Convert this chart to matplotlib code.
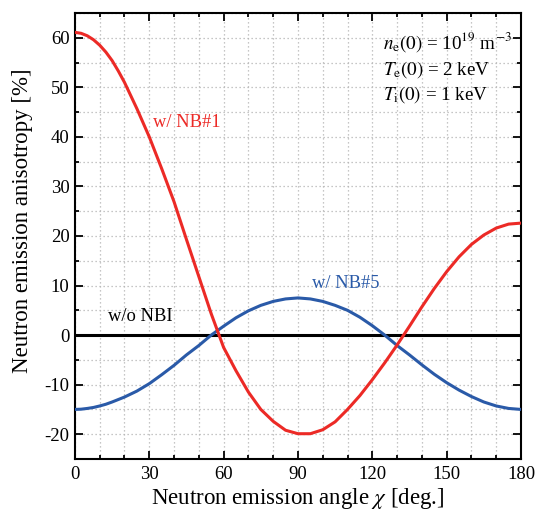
import numpy as np
import matplotlib
matplotlib.use('Agg')
import matplotlib.pyplot as plt
from matplotlib.ticker import MultipleLocator

plt.rcParams['font.family'] = ['Liberation Serif', 'DejaVu Serif']
plt.rcParams['mathtext.fontset'] = 'stix'
plt.rcParams['axes.unicode_minus'] = False

# angle [deg.]
chi = [0, 2.5, 5, 7.5, 10, 12.5, 15, 17.5, 20, 25, 30, 35, 40, 45, 50, 55, 60,
       65, 70, 75, 80, 85, 90, 95, 100, 105, 110, 115, 120, 125, 130, 135, 140,
       145, 150, 155, 160, 165, 170, 175, 180]

# w/ NB#1
nb1 = [61.1, 60.9, 60.4, 59.6, 58.5, 57.1, 55.4, 53.3, 51.0, 45.7, 40.0, 33.6,
       26.9, 19.3, 11.8, 4.3, -2.5, -7.2, -11.5, -15.0, -17.4, -19.2, -19.9,
       -19.9, -19.1, -17.5, -15.0, -12.2, -9.0, -5.6, -2.0, 1.8, 5.7, 9.4, 12.8,
       15.8, 18.3, 20.2, 21.6, 22.4, 22.6]

# w/ NB#5
nb5 = [-15.0, -14.95, -14.8, -14.6, -14.3, -13.95, -13.5, -13.0, -12.5, -11.3,
       -9.8, -8.0, -6.1, -4.0, -2.1, 0.0, 1.8, 3.5, 4.9, 6.0, 6.8, 7.3, 7.5, 7.3,
       6.8, 6.0, 5.0, 3.6, 1.9, 0.0, -2.1, -4.0, -6.0, -7.9, -9.6, -11.1, -12.4,
       -13.5, -14.3, -14.8, -15.0]

# w/o NBI
no_nbi = [0.0] * len(chi)

red = '#ec2a26'
blue = '#2a5aa8'

fig = plt.figure(figsize=(5.43, 5.16), dpi=100)
ax = fig.add_axes([0.138, 0.1105, 0.8215, 0.8643])

ax.plot(chi, no_nbi, color='black', lw=2.2, zorder=3)
ax.plot(chi, nb5, color=blue, lw=2.2, zorder=4)
ax.plot(chi, nb1, color=red, lw=2.2, zorder=5)

ax.set_xlim(0, 180)
ax.set_ylim(-25, 65)
ax.xaxis.set_major_locator(MultipleLocator(30))
ax.xaxis.set_minor_locator(MultipleLocator(10))
ax.yaxis.set_major_locator(MultipleLocator(10))
ax.yaxis.set_minor_locator(MultipleLocator(5))

ax.grid(which='both', color='#b4b4b4', ls=(0, (1.0, 2.2)), lw=0.9)
ax.set_axisbelow(True)

ax.tick_params(which='both', direction='in', top=True, right=True, width=1.3,
               labelsize=13.5)
ax.tick_params(which='major', length=5.5)
ax.tick_params(which='minor', length=3)
ax.tick_params(axis='x', pad=5)
ax.tick_params(axis='y', pad=4)
for sp in ax.spines.values():
    sp.set_linewidth(1.5)

ax.set_xlabel(r'Neutron emission angle $\chi$ [deg.]', fontsize=16.5, labelpad=2)
ax.set_ylabel('Neutron emission anisotropy [%]', fontsize=16.5)
ax.yaxis.set_label_coords(-0.095, 0.534)

ax.text(31.5, 43, 'w/ NB#1', color=red, fontsize=13.3, va='center')
ax.text(95.5, 10.5, 'w/ NB#5', color=blue, fontsize=13.3, va='center')
ax.text(13.4, 3.8, 'w/o NBI', color='black', fontsize=13.3, va='center')

ax.text(124.3, 57.9, r'$n_\mathrm{e}(0)$ = 10$^{19}$ m$^{-3}$', fontsize=13.7,
        va='baseline')
ax.text(124.3, 52.6, r'$T_\mathrm{e}(0)$ = 2 keV', fontsize=13.7, va='baseline')
ax.text(124.3, 47.6, r'$T_\mathrm{i}(0)$ = 1 keV', fontsize=13.7, va='baseline')

fig.savefig('out.png', dpi=100)
